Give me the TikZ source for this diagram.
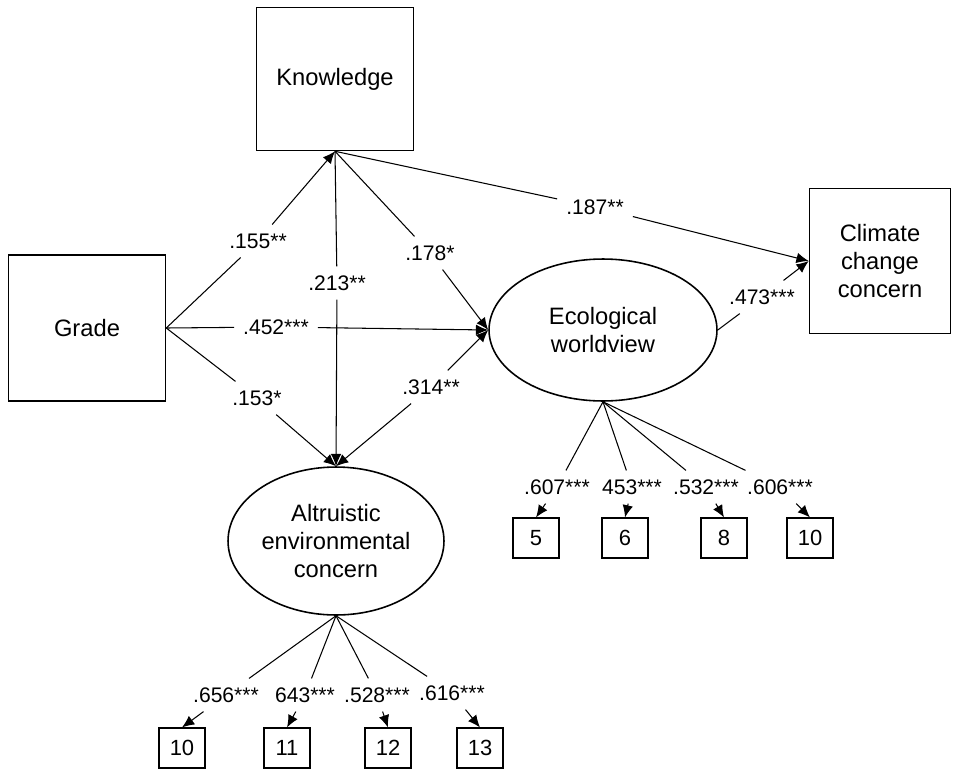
\documentclass[tikz,border=0pt]{standalone}
\usepackage{fontspec}
\setmainfont{Liberation Sans}
\usetikzlibrary{shapes.geometric,arrows.meta}

\begin{document}
\begin{tikzpicture}[x=0.02cm,y=-0.02cm,
  font=\fontsize{13.5}{16.2}\selectfont,
  >={Latex[length=7pt,width=6pt]},
  box/.style={draw,line width=0.9pt,align=center,inner sep=0pt},
  latent/.style={draw,ellipse,line width=0.9pt,align=center,inner sep=0pt},
  item/.style={draw,line width=0.9pt,minimum width=0.92cm,minimum height=0.79cm,inner sep=0pt,font=\fontsize{12.5}{15}\selectfont},
  coef/.style={inner sep=5pt,font=\fontsize{12}{14}\selectfont},
  path/.style={line width=0.6pt}]
\useasboundingbox (0,0) rectangle (960,768);

\node[box,minimum width=3.14cm,minimum height=2.86cm] (know) at (335,79) {Knowledge};
\node[box,minimum width=3.14cm,minimum height=2.92cm] (grade) at (87,328) {Grade};
\node[box,minimum width=2.82cm,minimum height=2.9cm] (climate) at (880,261) {Climate\\change\\concern};
\node[latent,minimum width=4.56cm,minimum height=2.84cm] (eco) at (603,330) {Ecological\\worldview};
\node[latent,minimum width=4.32cm,minimum height=2.96cm] (alt) at (336,541) {Altruistic\\environmental\\concern};

\node[coef] (l155) at (258,241) {.155**};
\node[coef] (l452) at (276,327) {.452***};
\node[coef] (l153) at (257,398) {.153*};
\node[coef] (l213) at (337,283) {.213**};
\node[coef] (l178) at (430,253) {.178*};
\node[coef] (l314) at (431,387) {.314**};
\node[coef] (l187) at (595,207) {.187**};
\node[coef] (l473) at (762,297) {.473***};

\draw[path] (grade.east) -- (l155); \draw[path,->] (l155) -- (know.south);
\draw[path] (grade.east) -- (l452); \draw[path,->] (l452) -- (eco.west);
\draw[path] (grade.east) -- (l153); \draw[path,->] (l153) -- (alt.north);
\draw[path] (know.south) -- (l213); \draw[path,->] (l213) -- (alt.north);
\draw[path] (know.south) -- (l178); \draw[path,->] (l178) -- (eco.west);
\draw[path] (know.south) -- (l187); \draw[path,->] (l187) -- (climate.west);
\draw[path,->] (l314) -- (alt.north); \draw[path,->] (l314) -- (eco.west);
\draw[path] (eco.east) -- (l473); \draw[path,->] (l473) -- (climate.west);

\foreach \i/\lx/\lab/\bx/\num in {1/557/.607***/536/5,2/632/453***/625/6,3/706/.532***/724/8,4/780/.606***/810/10}{
  \node[coef] (ec\i) at (\lx,487) {\lab};
  \node[item] (ei\i) at (\bx,538) {\num};
  \draw[path] (eco.south) -- (ec\i);
  \draw[path,->] (ec\i) -- (ei\i.north);
}

\foreach \i/\lx/\ly/\lab/\bx/\num in {1/226/695/.656***/182/10,2/305/695/643***/287/11,3/377/695/.528***/388/12,4/452/693/.616***/480/13}{
  \node[coef] (ac\i) at (\lx,\ly) {\lab};
  \node[item] (ai\i) at (\bx,748) {\num};
  \draw[path] (alt.south) -- (ac\i);
  \draw[path,->] (ac\i) -- (ai\i.north);
}
\end{tikzpicture}
\end{document}
